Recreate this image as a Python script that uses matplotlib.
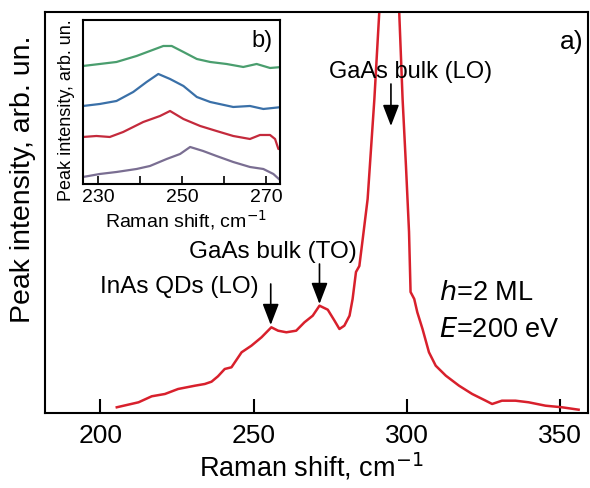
import matplotlib
matplotlib.use("Agg")
import numpy as np
import matplotlib.pyplot as plt

plt.rcParams['font.family'] = ['Liberation Sans', 'DejaVu Sans']

# main spectrum (a), arbitrary units
shift_a = [205.4, 212.5, 216.8, 221.1, 225.4, 230.9, 234.1, 236.3, 238.4, 240.6,
           242.8, 246.1, 249.3, 252.6, 255.8, 258, 260.7, 263.9, 266.6, 269.3,
           271.5, 274.2, 276.4, 278, 279.6, 281.3, 282.3, 283.4, 284.5, 285.6,
           287.2, 289.4, 291, 294.5, 297.5, 298.6, 299.7, 300.7, 301.2, 302.4,
           303.4, 305.1, 307.2, 309.4, 312.7, 317, 321.3, 325.7, 327.8, 331,
           335.4, 339.7, 345.2, 350.6, 356]
inten_a = [5.7, 10.7, 16.7, 19, 24, 27.3, 29, 31.3, 36.7, 44,
           45.7, 60.7, 67.3, 75.7, 85.7, 82.3, 80.7, 82.3, 90.7, 97.3,
           107.3, 103.3, 92.3, 84, 87.3, 97.3, 114, 141, 147, 174,
           214, 314, 401, 600, 401, 314, 247, 181, 121, 114,
           100.7, 84, 60.7, 47.3, 37.3, 27.3, 19, 12.3, 9, 12.3,
           12.3, 10.7, 7.3, 5.7, 3.3]

# inset spectra (b)
shift_green = [226.3, 230.3, 234.3, 239.1, 242.3, 245.5, 247.5, 250.3, 253.5, 256.7,
               260.6, 264.6, 267.8, 271, 273.9]
green = [118, 120, 122, 128, 133, 138, 138, 132, 125, 122, 120, 117, 120, 116, 117]

shift_blue = [226.3, 230.3, 234.3, 238.3, 241.5, 244.3, 247.1, 250.3, 253.5, 256.7,
              262.2, 266.2, 269.4, 273.9]
blue = [78, 80, 83, 92, 102, 110, 105, 98, 87, 82, 77, 78, 75, 77]

shift_red = [226.3, 229.5, 232.7, 235.9, 240.7, 244.7, 247.1, 250.3, 254.3, 258.2,
             262.2, 266.2, 268.6, 271, 272.2, 273, 273.9]
red = [47, 48, 47, 52, 62, 68, 73, 65, 58, 53, 48, 45, 49, 49, 45, 35, 35]

shift_purple = [226.3, 230.3, 234.3, 239.1, 242.3, 246.3, 249.5, 251.9, 255, 258.2,
                262.2, 266.2, 269.4, 271.8, 273.9]
purple = [7, 10, 12, 15, 18, 25, 30, 37, 33, 28, 22, 17, 15, 10, 2]

fig = plt.figure(figsize=(5.9, 4.89), dpi=100)
ax = fig.add_axes([0.0763, 0.1534, 0.920, 0.820])
ax.plot(shift_a, inten_a, color='#d8202c', lw=1.8)
ax.set_xlim(182, 359)
ax.set_ylim(0, 401)
ax.set_xticks([200, 250, 300, 350])
ax.set_yticks([])
ax.tick_params(axis='x', direction='in', length=10, width=1.5, labelsize=19, pad=7)
for s in ax.spines.values():
    s.set_linewidth(1.5)
ax.set_xlabel('Raman shift, cm$^{-1}$', fontsize=19.5)
ax.xaxis.set_label_coords(0.49, -0.092)
ax.set_ylabel('Peak intensity, arb. un.', fontsize=20.5)
ax.yaxis.set_label_coords(-0.016, 0.586)

arrow = dict(arrowstyle='-|>,head_length=0.65,head_width=0.25', color='black',
             lw=1.2, mutation_scale=20, shrinkA=0, shrinkB=0)
ax.annotate('', xy=(294.8, 287), xytext=(294.8, 329), arrowprops=arrow)
ax.annotate('', xy=(271.5, 109), xytext=(271.5, 149), arrowprops=arrow)
ax.annotate('', xy=(255.6, 88), xytext=(255.6, 129), arrowprops=arrow)
ax.text(301.3, 342, 'GaAs bulk (LO)', fontsize=17, ha='center', va='center')
ax.text(256.2, 162, 'GaAs bulk (TO)', fontsize=17.5, ha='center', va='center')
ax.text(225.7, 127, 'InAs QDs (LO)', fontsize=17.5, ha='center', va='center')
ax.text(310.5, 121, '$h$=2 ML', fontsize=19.5, ha='left', va='center')
ax.text(310.5, 84, '$E$=200 eV', fontsize=19.5, ha='left', va='center')
ax.text(0.97, 0.928, 'a)', transform=ax.transAxes, fontsize=19, ha='center', va='center')

ins = fig.add_axes([0.1407, 0.6217, 0.334, 0.3354])
ins.plot(shift_green, green, color='#4a9e6e', lw=1.6)
ins.plot(shift_blue, blue, color='#3a70a8', lw=1.6)
ins.plot(shift_red, red, color='#c42a3c', lw=1.6)
ins.plot(shift_purple, purple, color='#7a6e92', lw=1.6)
ins.set_xlim(226.3, 273.4)
ins.set_ylim(0, 164)
ins.set_xticks([230, 240, 250, 260, 270])
ins.set_xticklabels(['230', '', '250', '', '270'])
ins.set_yticks([])
ins.tick_params(axis='x', direction='in', length=6, width=1.2, labelsize=14, pad=3)
for s in ins.spines.values():
    s.set_linewidth(1.5)
ins.set_xlabel('Raman shift, cm$^{-1}$', fontsize=14)
ins.xaxis.set_label_coords(0.52, -0.14)
ins.set_ylabel('Peak intensity, arb. un.', fontsize=13)
ins.yaxis.set_label_coords(-0.04, 0.457)
ins.text(0.91, 0.88, 'b)', transform=ins.transAxes, fontsize=17, ha='center', va='center')

fig.savefig('out.png', dpi=100)
